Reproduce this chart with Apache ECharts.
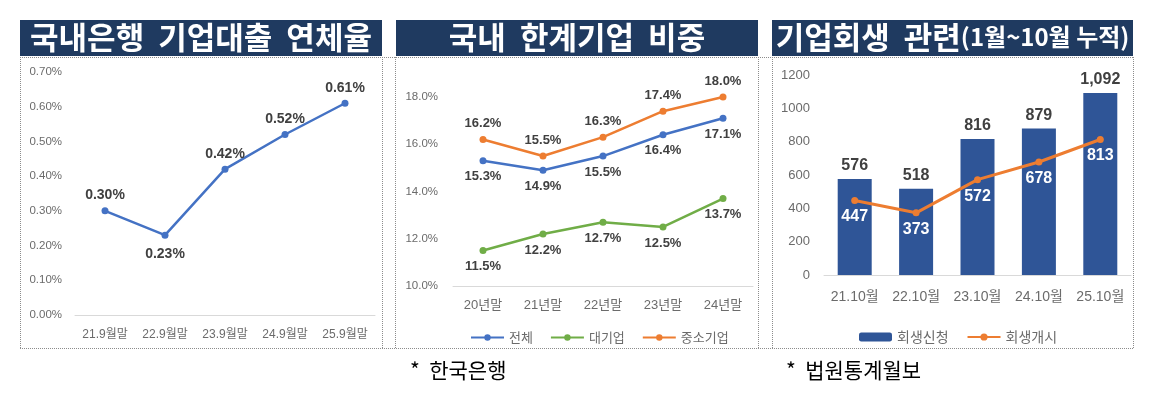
<!DOCTYPE html>
<html>
<head>
<meta charset="utf-8">
<script src="https://cdn.jsdelivr.net/npm/echarts@6/dist/echarts.min.js"></script>
<style>
  html, body { margin: 0; padding: 0; background: #fff; }
  #chart { width: 1153px; height: 397px; }
</style>
</head>
<body>
<div id="chart"></div>
<script>
// 국내은행 기업대출 연체율
var delinqCats = ['21.9월말', '22.9월말', '23.9월말', '24.9월말', '25.9월말'];
var delinqRate = [0.30, 0.23, 0.42, 0.52, 0.61];

// 국내 한계기업 비중
var zombieCats = ['20년말', '21년말', '22년말', '23년말', '24년말'];
var zombieAll = [15.3, 14.9, 15.5, 16.4, 17.1];
var zombieLarge = [11.5, 12.2, 12.7, 12.5, 13.7];
var zombieSme = [16.2, 15.5, 16.3, 17.4, 18.0];

// 기업회생 관련 (1월~10월 누적)
var rehabCats = ['21.10월', '22.10월', '23.10월', '24.10월', '25.10월'];
var rehabApply = [576, 518, 816, 879, 1092];
var rehabStart = [447, 373, 572, 678, 813];

var FONT = "'Liberation Sans', 'Noto Sans CJK KR', sans-serif";
var KFONT = "'Noto Sans CJK KR', sans-serif";
var BLUE = '#4472c4', GREEN = '#70ad47', ORANGE = '#ed7d31', BAR = '#2f5597';
var NAVY = '#1f3a60';

var myChart = echarts.init(document.getElementById('chart'));

function xAxisFor(idx, cats, size, margin) {
    return {
        type: 'category', gridIndex: idx, data: cats,
        axisTick: { show: false },
        axisLine: { lineStyle: { color: '#d9d9d9', width: 1 } },
        axisLabel: { interval: 0, color: '#6b6b6b', fontSize: size, fontFamily: FONT, margin: margin }
    };
}

function yAxisFor(idx, min, max, interval, size, fmt, margin) {
    return {
        type: 'value', gridIndex: idx, min: min, max: max, interval: interval,
        splitLine: { show: false },
        axisLine: { show: false },
        axisTick: { show: false },
        axisLabel: { color: '#6b6b6b', fontSize: size, fontFamily: FONT, margin: margin, formatter: fmt }
    };
}

function lineSeries(name, data, color, xi, pos, size) {
    return {
        name: name, type: 'line', xAxisIndex: xi, yAxisIndex: xi,
        data: data,
        symbol: 'circle', symbolSize: 7,
        lineStyle: { color: color, width: 2.5 },
        itemStyle: { color: color },
        label: {
            show: true, position: pos, distance: 6,
            color: '#404040', fontWeight: 'bold', fontSize: size, fontFamily: FONT,
            formatter: function (p) { return p.value.toFixed(1) + '%'; }
        }
    };
}

// title bars, frames and footnotes
var titles = [
    { x: 20, w: 362, text: '국내은행  기업대출  연체율' },
    { x: 396, w: 362, text: '국내  한계기업  비중' },
    { x: 772, w: 361, text: '{a|기업회생  관련}{b|(1월~10월 누적)}' }
];
var graphics = [];
titles.forEach(function (t) {
    graphics.push({
        type: 'rect', shape: { x: t.x, y: 20, width: t.w, height: 36 },
        style: { fill: NAVY }, silent: true
    });
    graphics.push({
        type: 'text', x: t.x + t.w / 2, y: 37,
        style: {
            text: t.text, fill: '#fff', align: 'center', verticalAlign: 'middle',
            font: 'bold 31px ' + KFONT,
            rich: {
                a: { fontSize: 31, fontWeight: 'bold', fontFamily: KFONT, fill: '#fff' },
                b: { fontSize: 24, fontWeight: 'bold', fontFamily: KFONT, fill: '#fff' }
            }
        }
    });
});
var dash = { stroke: '#8c8c8c', lineWidth: 1, lineDash: [1, 1] };
graphics.push({ type: 'line', shape: { x1: 20, y1: 57.5, x2: 1133, y2: 57.5 }, style: dash });
graphics.push({ type: 'line', shape: { x1: 20, y1: 348.5, x2: 1133, y2: 348.5 }, style: dash });
[20.5, 382.5, 395.5, 758.5, 772.5, 1133.5].forEach(function (x) {
    graphics.push({ type: 'line', shape: { x1: x, y1: 57, x2: x, y2: 348 }, style: dash });
});
graphics.push({
    type: 'text', x: 410, y: 370,
    style: { text: '*  한국은행', fill: '#000', font: '21px ' + KFONT, verticalAlign: 'middle' }
});
graphics.push({
    type: 'text', x: 786, y: 370,
    style: { text: '*  법원통계월보', fill: '#000', font: '21px ' + KFONT, verticalAlign: 'middle' }
});

var option = {
    backgroundColor: '#fff',
    animation: false,
    textStyle: { fontFamily: FONT },
    graphic: graphics,
    grid: [
        { left: 75, top: 72, width: 300, height: 243 },
        { left: 453, top: 97, width: 300, height: 189 },
        { left: 824, top: 75, width: 307, height: 200 }
    ],
    xAxis: [
        xAxisFor(0, delinqCats, 12, 14),
        xAxisFor(1, zombieCats, 13, 13),
        xAxisFor(2, rehabCats, 14, 15)
    ],
    yAxis: [
        yAxisFor(0, 0, 0.7, 0.1, 11.5, function (v) { return v.toFixed(2) + '%'; }, 13),
        yAxisFor(1, 10, 18, 2, 11.5, function (v) { return v.toFixed(1) + '%'; }, 15),
        yAxisFor(2, 0, 1200, 200, 13, function (v) { return String(v); }, 14)
    ],
    legend: [
        {
            data: ['전체', '대기업', '중소기업'],
            left: 465, top: 326,
            itemWidth: 33, itemHeight: 8, itemGap: 17,
            textStyle: { color: '#6b6b6b', fontSize: 13, fontFamily: KFONT }
        },
        {
            data: ['회생신청', '회생개시'],
            left: 854, top: 325,
            itemWidth: 33, itemHeight: 9, itemGap: 18,
            textStyle: { color: '#6b6b6b', fontSize: 14, fontFamily: KFONT }
        }
    ],
    series: [
        {
            name: '연체율', type: 'line', xAxisIndex: 0, yAxisIndex: 0,
            data: delinqRate.map(function (v, i) {
                return { value: v, label: { position: i === 1 ? 'bottom' : 'top', distance: i === 1 ? 8 : 5 } };
            }),
            symbol: 'circle', symbolSize: 7,
            lineStyle: { color: BLUE, width: 2.5 },
            itemStyle: { color: BLUE },
            label: {
                show: true, color: '#404040', fontWeight: 'bold', fontSize: 14, fontFamily: FONT,
                formatter: function (p) { return p.value.toFixed(2) + '%'; }
            }
        },
        lineSeries('전체', zombieAll, BLUE, 1, 'bottom', 13),
        lineSeries('대기업', zombieLarge, GREEN, 1, 'bottom', 13),
        lineSeries('중소기업', zombieSme, ORANGE, 1, 'top', 13),
        {
            name: '회생신청', type: 'bar', xAxisIndex: 2, yAxisIndex: 2,
            data: rehabApply,
            barWidth: 34,
            itemStyle: { color: BAR },
            label: {
                show: true, position: 'top', distance: 5,
                color: '#404040', fontWeight: 'bold', fontSize: 16, fontFamily: FONT,
                formatter: function (p) { return p.value.toLocaleString('en-US'); }
            }
        },
        {
            name: '회생개시', type: 'line', xAxisIndex: 2, yAxisIndex: 2,
            data: rehabStart,
            symbol: 'circle', symbolSize: 7,
            lineStyle: { color: ORANGE, width: 3 },
            itemStyle: { color: ORANGE },
            label: {
                show: true, position: 'bottom', distance: 5,
                color: '#fff', fontWeight: 'bold', fontSize: 16, fontFamily: FONT
            }
        }
    ]
};

option && myChart.setOption(option);
</script>
</body>
</html>
